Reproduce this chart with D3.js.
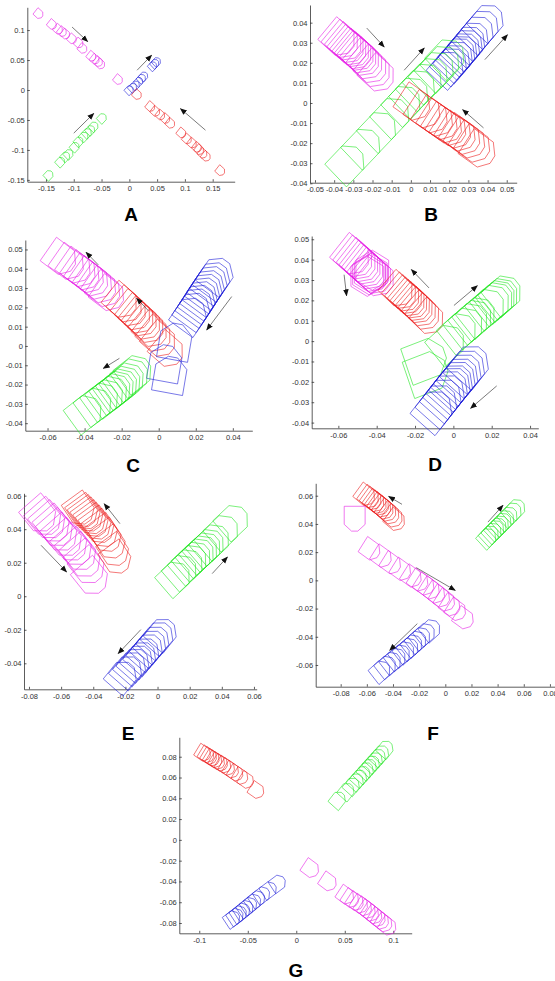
<!DOCTYPE html>
<html lang="en">
<head>
  <meta charset="UTF-8">
  <title>Polygon tracks</title>
  <script src="https://d3js.org/d3.v7.min.js"></script>
  <style>
    body { margin: 0; background: #fff; }
  </style>
</head>
<body>
  <svg id="svg" width="555" height="981"></svg>
  <script>
    // ---- data: polygon centres [x, y] per panel and colour ----
    var A_magenta = [[-0.163,0.127],[-0.139,0.109],[-0.128,0.101],[-0.121,0.097],[-0.115,0.093],[-0.103,0.085],[-0.091,0.078],[-0.084,0.069],[-0.068,0.056],[-0.062,0.051],[-0.056,0.047],[-0.052,0.043],[-0.020,0.017]]
    var A_blue = [[0.000,0.000],[0.006,0.004],[0.011,0.008],[0.017,0.014],[0.022,0.019],[0.026,0.023],[0.042,0.040],[0.046,0.044],[0.049,0.047]]
    var A_red = [[0.014,-0.008],[0.038,-0.028],[0.047,-0.036],[0.056,-0.042],[0.065,-0.048],[0.074,-0.056],[0.094,-0.072],[0.104,-0.082],[0.113,-0.089],[0.122,-0.096],[0.126,-0.100],[0.132,-0.106],[0.138,-0.111],[0.164,-0.135]]
    var A_green = [[-0.145,-0.142],[-0.124,-0.120],[-0.115,-0.111],[-0.109,-0.107],[-0.098,-0.095],[-0.091,-0.086],[-0.082,-0.078],[-0.076,-0.072],[-0.070,-0.067],[-0.064,-0.061],[-0.049,-0.047]]

    var B_magenta = [[-0.0374,0.0319],[-0.0357,0.0307],[-0.0339,0.0295],[-0.0327,0.0282],[-0.0313,0.0271],[-0.0299,0.0262],[-0.0287,0.0252],[-0.0275,0.0244],[-0.0261,0.0232],[-0.0247,0.0219],[-0.0230,0.0202],[-0.0209,0.0183],[-0.0191,0.0163],[-0.0170,0.0141]]
    var B_blue = [[0.0191,0.0174],[0.0209,0.0191],[0.0226,0.0207],[0.0240,0.0224],[0.0252,0.0241],[0.0264,0.0252],[0.0278,0.0266],[0.0292,0.0282],[0.0304,0.0299],[0.0322,0.0319],[0.0348,0.0349],[0.0374,0.0378],[0.0400,0.0407]]
    var B_green = [[-0.0330,-0.0299],[-0.0247,-0.0216],[-0.0165,-0.0133],[-0.0096,-0.0063],[-0.0038,-0.0003],[0.0003,0.0038],[0.0038,0.0075],[0.0073,0.0108],[0.0104,0.0136],[0.0136,0.0166],[0.0165,0.0196],[0.0191,0.0229]]
    var B_red = [[0.0017,-0.0003],[0.0070,-0.0041],[0.0108,-0.0066],[0.0136,-0.0083],[0.0160,-0.0100],[0.0183,-0.0116],[0.0205,-0.0129],[0.0230,-0.0143],[0.0254,-0.0156],[0.0278,-0.0173],[0.0304,-0.0191],[0.0330,-0.0212],[0.0357,-0.0236]]

    var C_magenta = [[-0.0529,0.0454],[-0.0487,0.0428],[-0.0451,0.0408],[-0.0424,0.0390],[-0.0403,0.0373],[-0.0379,0.0359],[-0.0356,0.0342],[-0.0335,0.0325],[-0.0313,0.0307],[-0.0291,0.0287],[-0.0270,0.0266]]
    var C_red = [[-0.0200,0.0230],[-0.0173,0.0207],[-0.0151,0.0187],[-0.0128,0.0166],[-0.0110,0.0149],[-0.0092,0.0135],[-0.0074,0.0117],[-0.0056,0.0100],[-0.0038,0.0079],[-0.0018,0.0055],[0.0007,0.0028],[0.0049,-0.0024]]
    var C_blue = [[0.0313,0.0368],[0.0295,0.0345],[0.0281,0.0325],[0.0266,0.0304],[0.0254,0.0285],[0.0241,0.0266],[0.0228,0.0247],[0.0216,0.0228],[0.0203,0.0209],[0.0187,0.0187],[0.0169,0.0161]]
    var C_blueLoose = [[0.0088,0.0022],[0.0034,-0.0090],[0.0061,-0.0150]]
    var C_green = [[-0.0397,-0.0345],[-0.0344,-0.0306],[-0.0308,-0.0280],[-0.0281,-0.0263],[-0.0259,-0.0245],[-0.0241,-0.0231],[-0.0223,-0.0219],[-0.0205,-0.0207],[-0.0187,-0.0193],[-0.0169,-0.0176],[-0.0146,-0.0155],[-0.0128,-0.0138]]

    var D_magenta = [[-0.0527,0.0416],[-0.0510,0.0403],[-0.0492,0.0392],[-0.0478,0.0379],[-0.0466,0.0367],[-0.0452,0.0354],[-0.0438,0.0343],[-0.0424,0.0331],[-0.0410,0.0321],[-0.0397,0.0310]]
    var D_magentaRing = [[-0.0431,0.0334],[-0.0440,0.0326],[-0.0423,0.0348],[-0.0449,0.0318]]
    var D_red = [[-0.0289,0.0249],[-0.0271,0.0236],[-0.0254,0.0223],[-0.0240,0.0211],[-0.0226,0.0200],[-0.0212,0.0189],[-0.0198,0.0177],[-0.0184,0.0166],[-0.0167,0.0151],[-0.0150,0.0134],[-0.0129,0.0113]]
    var D_greenLoose = [[-0.0136,-0.0157],[-0.0144,-0.0092]]
    var D_green = [[-0.0031,-0.0010],[0.0030,0.0048],[0.0064,0.0075],[0.0090,0.0097],[0.0111,0.0113],[0.0129,0.0126],[0.0177,0.0167],[0.0203,0.0187],[0.0221,0.0200],[0.0233,0.0210],[0.0247,0.0220],[0.0264,0.0233]]
    var D_blue = [[0.0090,-0.0116],[0.0070,-0.0138],[0.0052,-0.0157],[0.0035,-0.0177],[0.0021,-0.0193],[0.0007,-0.0210],[-0.0005,-0.0223],[-0.0019,-0.0239],[-0.0035,-0.0259],[-0.0052,-0.0280],[-0.0075,-0.0308],[-0.0101,-0.0338]]

    var E_magenta = [[-0.0732,0.0483],[-0.0701,0.0463],[-0.0676,0.0443],[-0.0649,0.0423],[-0.0628,0.0397],[-0.0601,0.0369],[-0.0572,0.0338],[-0.0539,0.0310],[-0.0510,0.0284],[-0.0483,0.0254],[-0.0456,0.0214],[-0.0431,0.0175],[-0.0410,0.0111]]
    var E_red = [[-0.0483,0.0516],[-0.0462,0.0502],[-0.0446,0.0489],[-0.0429,0.0475],[-0.0412,0.0459],[-0.0396,0.0443],[-0.0379,0.0427],[-0.0361,0.0407],[-0.0338,0.0383],[-0.0315,0.0354],[-0.0290,0.0314],[-0.0269,0.0270],[-0.0255,0.0224]]
    var E_green = [[0.0108,0.0111],[0.0149,0.0151],[0.0187,0.0185],[0.0211,0.0211],[0.0236,0.0230],[0.0257,0.0250],[0.0278,0.0268],[0.0298,0.0286],[0.0319,0.0306],[0.0352,0.0334],[0.0408,0.0389],[0.0470,0.0449]]
    var E_blue = [[-0.0220,-0.0477],[-0.0187,-0.0445],[-0.0162,-0.0421],[-0.0141,-0.0401],[-0.0120,-0.0381],[-0.0099,-0.0361],[-0.0079,-0.0338],[-0.0058,-0.0314],[-0.0037,-0.0292],[-0.0017,-0.0268],[0.0008,-0.0242],[0.0029,-0.0222]]

    var F_red = [[-0.0611,0.0602],[-0.0581,0.0586],[-0.0561,0.0572],[-0.0540,0.0558],[-0.0522,0.0546],[-0.0504,0.0534],[-0.0487,0.0520],[-0.0469,0.0506],[-0.0448,0.0491],[-0.0425,0.0472],[-0.0400,0.0449],[-0.0382,0.0425]]
    var F_magentaLone = [[-0.0693,0.0437]]
    var F_magenta = [[-0.0571,0.0217],[-0.0484,0.0165],[-0.0413,0.0118],[-0.0336,0.0071],[-0.0255,0.0024],[-0.0204,-0.0005],[-0.0158,-0.0033],[-0.0117,-0.0061],[-0.0076,-0.0090],[-0.0038,-0.0118],[0.0000,-0.0146],[0.0041,-0.0180],[0.0084,-0.0213],[0.0143,-0.0272]]
    var F_green = [[0.0321,0.0302],[0.0341,0.0321],[0.0362,0.0340],[0.0382,0.0359],[0.0400,0.0376],[0.0418,0.0392],[0.0438,0.0411],[0.0459,0.0430],[0.0484,0.0454],[0.0515,0.0484],[0.0543,0.0508]]
    var F_blue = [[-0.0494,-0.0643],[-0.0451,-0.0609],[-0.0413,-0.0581],[-0.0377,-0.0553],[-0.0344,-0.0529],[-0.0311,-0.0506],[-0.0280,-0.0482],[-0.0250,-0.0458],[-0.0219,-0.0432],[-0.0189,-0.0406],[-0.0153,-0.0378],[-0.0112,-0.0350]]

    var G_red = [[-0.0959,0.0833],[-0.0924,0.0817],[-0.0897,0.0801],[-0.0869,0.0785],[-0.0842,0.0769],[-0.0814,0.0753],[-0.0784,0.0737],[-0.0749,0.0718],[-0.0711,0.0696],[-0.0670,0.0670],[-0.0625,0.0641],[-0.0574,0.0609],[-0.0515,0.0571],[-0.0409,0.0474]]
    var G_green = [[0.0430,0.0385],[0.0519,0.0468],[0.0574,0.0519],[0.0615,0.0561],[0.0649,0.0596],[0.0684,0.0631],[0.0718,0.0667],[0.0749,0.0699],[0.0780,0.0731],[0.0811,0.0763],[0.0842,0.0795],[0.0876,0.0830],[0.0921,0.0875]]
    var G_blue = [[-0.0660,-0.0760],[-0.0625,-0.0737],[-0.0591,-0.0712],[-0.0557,-0.0686],[-0.0522,-0.0660],[-0.0485,-0.0631],[-0.0443,-0.0599],[-0.0402,-0.0567],[-0.0351,-0.0529],[-0.0282,-0.0481],[-0.0189,-0.0417]]
    var G_magenta = [[0.0148,-0.0279],[0.0330,-0.0407],[0.0509,-0.0535],[0.0560,-0.0567],[0.0608,-0.0596],[0.0653,-0.0622],[0.0694,-0.0647],[0.0732,-0.0673],[0.0766,-0.0699],[0.0801,-0.0724],[0.0835,-0.0750],[0.0869,-0.0776],[0.0904,-0.0801],[0.0945,-0.0833]]

    // arrows [x1, y1, x2, y2] in data units
    var A_arrows = [[-0.103,0.105,-0.075,0.081],[0.014,0.033,0.040,0.058],[0.137,-0.067,0.092,-0.031],[-0.100,-0.072,-0.064,-0.039]]
    var B_arrows = [[-0.0230,0.0373,-0.0139,0.0279],[-0.0035,0.0163,0.0070,0.0274],[0.0386,0.0216,0.0504,0.0340],[0.0379,-0.0124,0.0270,-0.0033]]
    var C_arrows = [[-0.0326,0.0420,-0.0392,0.0485],[-0.0056,0.0183,-0.0119,0.0247],[0.0394,0.0256,0.0259,0.0083],[-0.0212,-0.0064,-0.0299,-0.0116]]
    var D_arrows = [[-0.0570,0.0326,-0.0557,0.0223],[-0.0127,0.0261,-0.0219,0.0351],[0.0003,0.0175,0.0125,0.0272],[0.0226,-0.0220,0.0090,-0.0330]]
    var E_arrows = [[-0.0725,0.0304,-0.0566,0.0145],[-0.0234,0.0433,-0.0332,0.0552],[0.0340,0.0135,0.0435,0.0234],[-0.0104,-0.0199,-0.0245,-0.0342]]
    var F_arrows = [[-0.0331,0.0539,-0.0433,0.0595],[0.0326,0.0413,0.0441,0.0532],[-0.0222,0.0090,0.0076,-0.0071],[-0.0214,-0.0307,-0.0425,-0.0496]]
    var G_arrows = []

    // tick values
    var A_xt = [-0.15,-0.1,-0.05,0,0.05,0.1,0.15], A_yt = [-0.15,-0.1,-0.05,0,0.05,0.1]
    var B_xt = [-0.05,-0.04,-0.03,-0.02,-0.01,0,0.01,0.02,0.03,0.04,0.05], B_yt = [-0.04,-0.03,-0.02,-0.01,0,0.01,0.02,0.03,0.04]
    var C_xt = [-0.06,-0.04,-0.02,0,0.02,0.04], C_yt = [-0.04,-0.03,-0.02,-0.01,0,0.01,0.02,0.03,0.04,0.05]
    var D_xt = [-0.06,-0.04,-0.02,0,0.02,0.04], D_yt = [-0.04,-0.03,-0.02,-0.01,0,0.01,0.02,0.03,0.04,0.05]
    var E_xt = [-0.08,-0.06,-0.04,-0.02,0,0.02,0.04,0.06], E_yt = [-0.04,-0.02,0,0.02,0.04,0.06]
    var F_xt = [-0.08,-0.06,-0.04,-0.02,0,0.02,0.04,0.06,0.08], F_yt = [-0.06,-0.04,-0.02,0,0.02,0.04,0.06]
    var G_xt = [-0.1,-0.05,0,0.05,0.1], G_yt = [-0.08,-0.06,-0.04,-0.02,0,0.02,0.04,0.06,0.08]

    // ---- layout ----
    var panels = [
      { name: 'A', xd: [-0.1836, 0.1896], yd: [-0.153, 0.138], xr: [27.3, 234.7], yr: [181.7, 7.3], xt: A_xt, yt: A_yt, lx: 131, ly: 221, arrows: A_arrows },
      { name: 'B', xd: [-0.0526, 0.0552], yd: [-0.0397, 0.0488], xr: [310, 516.7], yr: [182.7, 5], xt: B_xt, yt: B_yt, lx: 431, ly: 221, arrows: B_arrows },
      { name: 'C', xd: [-0.072, 0.0505], yd: [-0.0439, 0.0549], xr: [25.3, 252.3], yr: [430.7, 240], xt: C_xt, yt: C_yt, lx: 133, ly: 472, arrows: C_arrows },
      { name: 'D', xd: [-0.0739, 0.0443], yd: [-0.0428, 0.0516], xr: [311.7, 538.3], yr: [428.3, 236], xt: D_xt, yt: D_yt, lx: 435, ly: 471, arrows: D_arrows },
      { name: 'E', xd: [-0.0831, 0.0617], yd: [-0.0555, 0.0614], xr: [24, 256.7], yr: [689.3, 493.3], xt: E_xt, yt: E_yt, lx: 128, ly: 740, arrows: E_arrows },
      { name: 'F', xd: [-0.0991, 0.09], yd: [-0.0754, 0.0688], xr: [315.7, 563], yr: [686.7, 483.3], xt: F_xt, yt: F_yt, lx: 433, ly: 740, arrows: F_arrows },
      { name: 'G', xd: [-0.1206, 0.119], yd: [-0.0899, 0.0987], xr: [179.3, 411.7], yr: [933.3, 737.3], xt: G_xt, yt: G_yt, lx: 296, ly: 977, arrows: G_arrows }
    ]

    var red = '#ec1c1c', magenta = '#e61ee6', green = '#22e622', blue = '#1e1ed8'

    // unit polygons: box with chamfered front end (+u), and a plain hexagon
    var shape = [[-0.55,-0.5],[0.25,-0.5],[0.55,-0.15],[0.55,0.15],[0.25,0.5],[-0.55,0.5]]
    var hexShape = d3.range(6).map(i => [0.58 * Math.cos(i * Math.PI / 3), 0.58 * Math.sin(i * Math.PI / 3)])

    // groups: angle (deg, data space) and polygon size (data units)
    var groups = [
      { p: 'A', c: magenta, pts: A_magenta, ang: -40, s: 0.014 },
      { p: 'A', c: blue, pts: A_blue, ang: 45, s: 0.013 },
      { p: 'A', c: red, pts: A_red, ang: -40, s: 0.014 },
      { p: 'A', c: green, pts: A_green, ang: 45, s: 0.014 },
      { p: 'B', c: magenta, pts: B_magenta, ang: -41, s: 0.015 },
      { p: 'B', c: blue, pts: B_blue, ang: 48, s: 0.015 },
      { p: 'B', c: green, pts: B_green, ang: 45, s: 0.016 },
      { p: 'B', c: red, pts: B_red, ang: -34, s: 0.015 },
      { p: 'C', c: magenta, pts: C_magenta, ang: -36, s: 0.015 },
      { p: 'C', c: red, pts: C_red, ang: -40, s: 0.015 },
      { p: 'C', c: blue, pts: C_blue, ang: 55, s: 0.016 },
      { p: 'C', c: blue, pts: C_blueLoose, ang: 80, s: 0.017 },
      { p: 'C', c: green, pts: C_green, ang: 37, s: 0.016 },
      { p: 'D', c: magenta, pts: D_magenta, ang: -40, s: 0.016 },
      { p: 'D', c: magenta, pts: D_magentaRing, ang: -90, s: 0.017, shape: hexShape },
      { p: 'D', c: red, pts: D_red, ang: -42, s: 0.014 },
      { p: 'D', c: green, pts: D_greenLoose, ang: 20, s: 0.019 },
      { p: 'D', c: green, pts: D_green, ang: 40, s: 0.016 },
      { p: 'D', c: blue, pts: D_blue, ang: 50, s: 0.017 },
      { p: 'E', c: magenta, pts: E_magenta, ang: -50, s: 0.018 },
      { p: 'E', c: red, pts: E_red, ang: -55, s: 0.016 },
      { p: 'E', c: green, pts: E_green, ang: 42, s: 0.017 },
      { p: 'E', c: blue, pts: E_blue, ang: 50, s: 0.016 },
      { p: 'F', c: red, pts: F_red, ang: -38, s: 0.013 },
      { p: 'F', c: magenta, pts: F_magentaLone, ang: -90, s: 0.016 },
      { p: 'F', c: magenta, pts: F_magenta, ang: -34, s: 0.013 },
      { p: 'F', c: green, pts: F_green, ang: 45, s: 0.012 },
      { p: 'F', c: blue, pts: F_blue, ang: 40, s: 0.013 },
      { p: 'G', c: red, pts: G_red, ang: -33, s: 0.0135 },
      { p: 'G', c: green, pts: G_green, ang: 50, s: 0.014 },
      { p: 'G', c: blue, pts: G_blue, ang: 35, s: 0.014 },
      { p: 'G', c: magenta, pts: G_magenta, ang: -35, s: 0.015 }
    ]

    var fmt = v => String(+v.toFixed(3))

    var svg = d3.select('svg')
    svg.append('defs').append('marker')
      .attr('id', 'head')
      .attr('viewBox', '0 0 10 10')
      .attr('refX', 9).attr('refY', 5)
      .attr('markerWidth', 7).attr('markerHeight', 7)
      .attr('markerUnits', 'userSpaceOnUse')
      .attr('orient', 'auto')
      .append('path').attr('d', 'M0,1 L10,5 L0,9 Z').attr('fill', '#111')

    panels.forEach(pn => {
      var x = d3.scaleLinear().domain(pn.xd).range(pn.xr)
      var y = d3.scaleLinear().domain(pn.yd).range(pn.yr)
      var g = svg.append('g')

      // axes (ticks inward, MATLAB style)
      var xa = g.append('g')
        .attr('transform', 'translate(0,' + pn.yr[0] + ')')
        .call(d3.axisBottom(x).tickValues(pn.xt).tickFormat(fmt).tickSizeInner(-2.5).tickSizeOuter(0).tickPadding(4))
      var ya = g.append('g')
        .attr('transform', 'translate(' + pn.xr[0] + ',0)')
        .call(d3.axisLeft(y).tickValues(pn.yt).tickFormat(fmt).tickSizeInner(-2.5).tickSizeOuter(0).tickPadding(2.5))
      ;[xa, ya].forEach(a => {
        a.attr('font-family', 'Liberation Sans, Arial, sans-serif').attr('font-size', 7.5)
        a.selectAll('path, line').attr('stroke', '#333').attr('stroke-width', 0.8)
        a.selectAll('text').attr('fill', '#333')
      })

      // polygons
      groups.filter(d => d.p === pn.name).forEach(gr => {
        var a = gr.ang * Math.PI / 180, ca = Math.cos(a), sa = Math.sin(a)
        var shp = gr.shape || shape
        g.append('g').selectAll('polygon')
          .data(gr.pts)
          .enter()
          .append('polygon')
          .attr('points', d => shp.map(q => {
            var dx = (q[0] * ca - q[1] * sa) * gr.s
            var dy = (q[0] * sa + q[1] * ca) * gr.s
            return x(d[0] + dx) + ',' + y(d[1] + dy)
          }).join(' '))
          .attr('fill', 'none')
          .attr('stroke', gr.c)
          .attr('stroke-width', 0.6)
          .attr('stroke-linejoin', 'round')
      })

      // arrows
      g.selectAll('line.arrow')
        .data(pn.arrows)
        .enter()
        .append('line')
        .attr('class', 'arrow')
        .attr('x1', d => x(d[0])).attr('y1', d => y(d[1]))
        .attr('x2', d => x(d[2])).attr('y2', d => y(d[3]))
        .attr('stroke', '#222')
        .attr('stroke-width', 0.6)
        .attr('marker-end', 'url(#head)')

      // panel letter
      svg.append('text')
        .attr('x', pn.lx).attr('y', pn.ly)
        .attr('text-anchor', 'middle')
        .attr('font-family', 'Liberation Sans, Arial, sans-serif')
        .attr('font-weight', 'bold')
        .attr('font-size', 19)
        .text(pn.name)
    })
  </script>
</body>
</html>
